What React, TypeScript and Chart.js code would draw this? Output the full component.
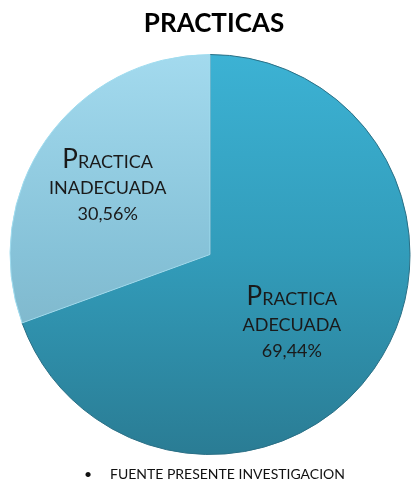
import React, { useEffect, useRef } from "react";
import { Chart, registerables } from "chart.js";

Chart.register(...registerables);

const categories = ["PRACTICA ADECUADA", "PRACTICA INADECUADA"];
const values = [69.44, 30.56];
const labelLines = [
  ["PRACTICA", "ADECUADA", "69,44%"],
  ["PRACTICA", "INADECUADA", "30,56%"],
];
const titleText = "PRACTICAS";
const footerText = "FUENTE PRESENTE INVESTIGACION";

const FONT = "Lato, 'Open Sans', sans-serif";

function smallCaps(ctx: CanvasRenderingContext2D, word: string, cx: number, y: number, big: number, small: number) {
  const first = word[0];
  const rest = word.slice(1);
  ctx.font = `${big}px ${FONT}`;
  const w1 = ctx.measureText(first).width;
  ctx.font = `${small}px ${FONT}`;
  const w2 = ctx.measureText(rest).width;
  const x0 = cx - (w1 + w2) / 2;
  ctx.textAlign = "left";
  ctx.font = `${big}px ${FONT}`;
  ctx.fillText(first, x0, y);
  ctx.font = `${small}px ${FONT}`;
  ctx.fillText(rest, x0 + w1, y);
}

const decorPlugin = {
  id: "decor",
  afterDatasetsDraw(chart: any) {
    const ctx = chart.ctx as CanvasRenderingContext2D;
    const meta = chart.getDatasetMeta(0);
    const radiusFrac = [0.54, 0.61];
    const angleShift = [0.1, -0.035];
    ctx.save();
    ctx.fillStyle = "#1a1a1a";
    ctx.textBaseline = "alphabetic";
    meta.data.forEach((arc: any, i: number) => {
      const { x, y, startAngle, endAngle, outerRadius } = arc.getProps(
        ["x", "y", "startAngle", "endAngle", "outerRadius"],
        true
      );
      const mid = (startAngle + endAngle) / 2 + angleShift[i];
      const r = outerRadius * radiusFrac[i];
      const cx = x + Math.cos(mid) * r;
      const cy = y + Math.sin(mid) * r;
      const lines = labelLines[i];
      smallCaps(ctx, lines[0], cx, cy - 20, 26, 18);
      ctx.textAlign = "center";
      ctx.font = `18px ${FONT}`;
      ctx.fillText(lines[1], cx, cy + 6);
      ctx.fillText(lines[2], cx, cy + 32);
    });
    // title
    ctx.textAlign = "center";
    ctx.fillStyle = "#000";
    ctx.font = `bold 26px ${FONT}`;
    ctx.fillText(titleText, 214, 32);
    // footer
    ctx.font = `14px ${FONT}`;
    ctx.textAlign = "left";
    ctx.fillStyle = "#111";
    ctx.fillText("\u2022", 84, 479);
    ctx.fillText(footerText, 110, 479);
    ctx.restore();
  },
};

export default function App() {
  const ref = useRef<HTMLCanvasElement>(null);
  useEffect(() => {
    const canvas = ref.current!;
    const chart = new Chart(canvas, {
      type: "pie",
      data: {
        labels: categories,
        datasets: [
          {
            data: values,
            backgroundColor: (c: any) => {
              const area = c.chart.chartArea;
              if (!area) return "#35aacb";
              const g = c.chart.ctx.createLinearGradient(0, area.top, 0, area.bottom);
              if (c.dataIndex === 0) {
                g.addColorStop(0, "#3cb2d4");
                g.addColorStop(0.5, "#329cba");
                g.addColorStop(1, "#2a7c94");
              } else {
                g.addColorStop(0, "#a3daee");
                g.addColorStop(0.5, "#86c2d8");
                g.addColorStop(1, "#76a9ba");
              }
              return g;
            },
            borderColor: ["#2a6f85", "#9fdcef"],
            borderWidth: 1,
          },
        ],
      },
      options: {
        responsive: false,
        animation: false,
        layout: { padding: { top: 54, bottom: 28, left: 8, right: 0 } },
        plugins: {
          legend: { display: false },
          title: { display: false },
          tooltip: { enabled: false },
        },
      },
      plugins: [decorPlugin],
    });
    return () => chart.destroy();
  }, []);
  return (
    <div style={{ position: "fixed", left: 0, top: 0, width: 412, height: 483, background: "#fff" }}>
      <canvas ref={ref} width={412} height={483} />
    </div>
  );
}
